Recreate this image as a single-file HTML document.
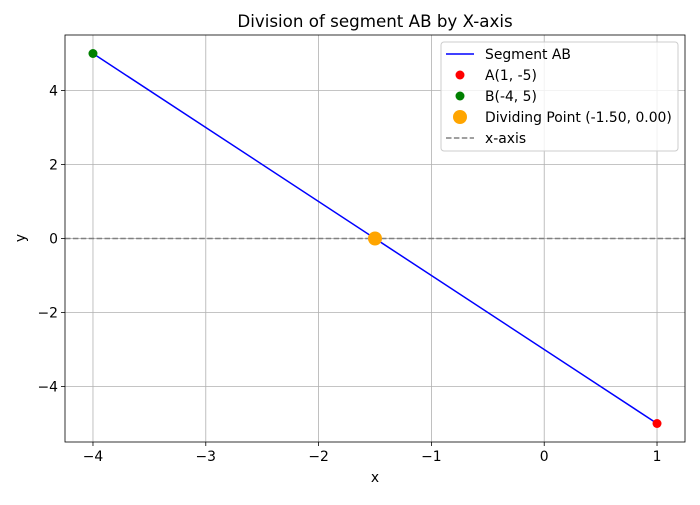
<!DOCTYPE html>
<html><head><meta charset="utf-8"><style>
body{margin:0;background:#fff;font-family:"Liberation Sans","DejaVu Sans",sans-serif;}
svg text{font-family:"DejaVu Sans","Liberation Sans",sans-serif;font-size:13.9px;fill:#000;}
</style></head><body>
<svg id="chart" width="700" height="500" xmlns="http://www.w3.org/2000/svg"></svg>
<script>
const xTicks=[-4,-3,-2,-1,0,1];
const yTicks=[-4,-2,0,2,4];
const segX=[-4,1];
const segY=[5,-5];
const pointA=[1,-5];
const pointB=[-4,5];
const divPoint=[-1.5,0];
const L=65,R=685,T=35,B=442,xmin=-4.248,xmax=1.248,ymin=-5.5,ymax=5.5;
const sx=v=>L+(v-xmin)/(xmax-xmin)*(R-L);
const sy=v=>B-(v-ymin)/(ymax-ymin)*(B-T);
const svg=document.getElementById('chart');
const NS='http://www.w3.org/2000/svg';
function mk(tag,attrs,name,parent){const e=document.createElementNS(NS,tag);for(const k in attrs)e.setAttribute(k,attrs[k]);


(parent||svg).appendChild(e);return e;}
mk('rect',{x:L,y:T,width:R-L,height:B-T,fill:'#fff'},'plot-area');
xTicks.forEach(t=>{const x=sx(t);
mk('line',{x1:x,x2:x,y1:T,y2:B,stroke:'#b0b0b0','stroke-width':0.8},'x-grid-line');
mk('line',{x1:x,x2:x,y1:B,y2:B+4,stroke:'#000','stroke-width':0.8},'x-tick');
const tx=mk('text',{x:x,y:B+19,'text-anchor':'middle'},'x-tick-label');tx.textContent=(t<0?'\u2212'+(-t):t);});
yTicks.forEach(t=>{const y=sy(t);
mk('line',{x1:L,x2:R,y1:y,y2:y,stroke:'#b0b0b0','stroke-width':0.8},'y-grid-line');
mk('line',{x1:L-4,x2:L,y1:y,y2:y,stroke:'#000','stroke-width':0.8},'y-tick');
const tx=mk('text',{x:L-7,y:y+5,'text-anchor':'end'},'y-tick-label');tx.textContent=(t<0?'\u2212'+(-t):t);});
mk('line',{x1:L,x2:R,y1:sy(0),y2:sy(0),stroke:'#808080','stroke-width':1.5,'stroke-dasharray':'5.5,2.4'},'x-axis-line');
mk('line',{x1:sx(segX[0]),y1:sy(segY[0]),x2:sx(segX[1]),y2:sy(segY[1]),stroke:'#0000ff','stroke-width':1.5},'segment-ab');
mk('circle',{cx:sx(pointA[0]),cy:sy(pointA[1]),r:4.5,fill:'#ff0000'},'point-a');
mk('circle',{cx:sx(pointB[0]),cy:sy(pointB[1]),r:4.5,fill:'#008000'},'point-b');
mk('circle',{cx:sx(divPoint[0]),cy:sy(divPoint[1]),r:7,fill:'#ffa500'},'dividing-point');
mk('rect',{x:L,y:T,width:R-L,height:B-T,fill:'none',stroke:'#000','stroke-width':0.8},'plot-frame');
let t=mk('text',{x:375,y:27,'text-anchor':'middle',style:'font-size:16.7px'},'chart-title');t.textContent='Division of segment AB by X-axis';
t=mk('text',{x:375,y:482,'text-anchor':'middle'},'x-axis-title');t.textContent='x';
t=mk('text',{x:25,y:238,'text-anchor':'middle',transform:'rotate(-90 25 238)'},'y-axis-title');t.textContent='y';
const g=mk('g',{},'legend');
mk('rect',{x:441,y:42,width:237,height:109,rx:3,fill:'#fff','fill-opacity':0.8,stroke:'#ccc'},'legend-box',g);
const items=[['line','#0000ff','Segment AB'],['dot','#ff0000','A(1, -5)'],['dot','#008000','B(-4, 5)'],['big','#ffa500','Dividing Point (-1.50, 0.00)'],['dash','#808080','x-axis']];
items.forEach((it,i)=>{const y=54+i*21;
if(it[0]=='line')mk('line',{x1:446,x2:474,y1:y,y2:y,stroke:it[1],'stroke-width':1.5},'legend-marker',g);
else if(it[0]=='dash')mk('line',{x1:446,x2:474,y1:y,y2:y,stroke:it[1],'stroke-width':1.5,'stroke-dasharray':'5.5,2.4'},'legend-marker',g);
else mk('circle',{cx:460,cy:y,r:it[0]=='big'?7:4.5,fill:it[1]},'legend-marker',g);
const tx=mk('text',{x:485,y:y+5},'legend-entry',g);tx.textContent=it[2];});
</script>
</body></html>
